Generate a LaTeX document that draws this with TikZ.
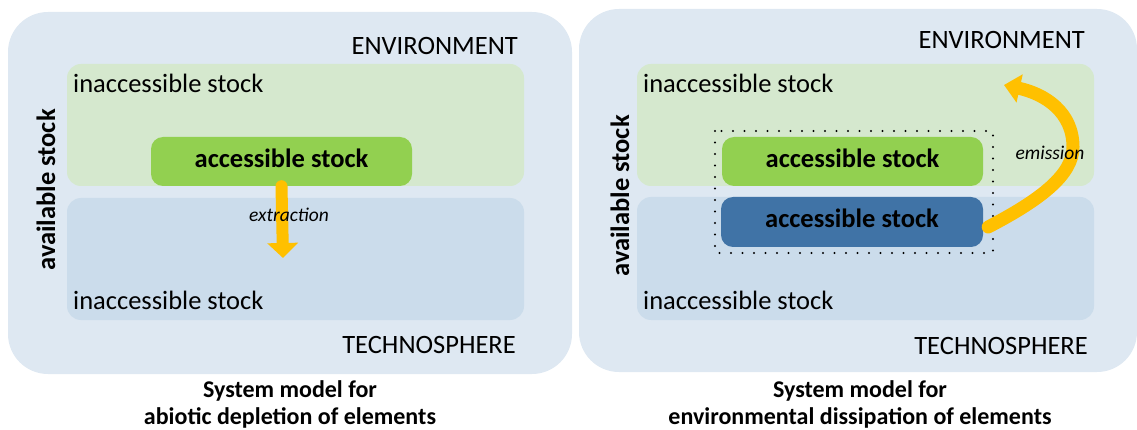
\documentclass[tikz,border=0pt]{standalone}
\usepackage{fontspec}
\setmainfont{Carlito}
\usetikzlibrary{arrows.meta}
\definecolor{outerbg}{HTML}{DEE8F2}
\definecolor{envgreen}{HTML}{D5E8CE}
\definecolor{techblue}{HTML}{CBDCEB}
\definecolor{accgreen}{HTML}{92D050}
\definecolor{accblue}{HTML}{4073A6}
\definecolor{flowgold}{HTML}{FFC000}

\begin{document}
\begin{tikzpicture}[x=1pt,y=-1pt,
	panel/.style={fill=outerbg,rounded corners=40pt},
	envzone/.style={fill=envgreen,rounded corners=14pt},
	techzone/.style={fill=techblue,rounded corners=14pt},
	big/.style={font=\fontsize{26.5}{30}\selectfont,inner sep=0pt},
	stockbox/.style={font=\fontsize{26.5}{30}\selectfont\bfseries,inner sep=0pt,text depth=7pt,
		rounded corners=12pt,minimum width=261pt,minimum height=49pt},
	sidelabel/.style={font=\fontsize{26.5}{30}\selectfont\bfseries,inner sep=0pt,rotate=90},
	flowlabel/.style={font=\fontsize{19.5}{22}\selectfont\itshape,inner sep=0pt},
	flow/.style={draw=flowgold,line width=12pt,line cap=round},
	caption/.style={font=\fontsize{24}{27}\selectfont\bfseries,align=center,inner sep=0pt}]
	\useasboundingbox (0,0) rectangle (1137,430);

	\fill[panel] (8,12) rectangle (572,374);
	\fill[envzone] (67,64) rectangle (524,186);
	\fill[techzone] (67,198) rectangle (524,320);

	\fill[panel] (579,9) rectangle (1137,372);
	\fill[envzone] (637,64) rectangle (1094,186);
	\fill[techzone] (637,197) rectangle (1094,320);

	\node[big,anchor=east] (envL) at (518,46) {ENVIRONMENT};
	\node[big,anchor=east] (techL) at (516,345) {TECHNOSPHERE};
	\node[big,anchor=west] (inaccTopL) at (73,83) {inaccessible stock};
	\node[big,anchor=west] (inaccBotL) at (73,300) {inaccessible stock};
	\node[sidelabel] (availL) at (46,190) {available stock};
	\node[stockbox,fill=accgreen] (accL) at (281.5,161.5) {accessible stock};
	\coordinate (extEnd) at (283,258);
	\draw[flow,-{Triangle[length=15pt,width=30pt]}] (accL.south) -- (extEnd);
	\node[flowlabel] (extLabel) at (289,215) {extraction};
	\node[caption] (capL) at (290,404) {System model for\\abiotic depletion of elements};

	\node[big,anchor=east] (envR) at (1085,40) {ENVIRONMENT};
	\node[big,anchor=east] (techR) at (1088,346) {TECHNOSPHERE};
	\node[big,anchor=west] (inaccTopR) at (643,83) {inaccessible stock};
	\node[big,anchor=west] (inaccBotR) at (643,300) {inaccessible stock};
	\node[sidelabel] (availR) at (620,196) {available stock};
	\draw[line width=2.2pt,line cap=round,dash pattern=on 0pt off 11.5pt] (715,131) rectangle (993,253);
	\node[stockbox,fill=accgreen] (accRg) at (852.5,161.5) {accessible stock};
	\node[stockbox,fill=accblue,minimum width=262pt,minimum height=50pt] (accRb) at (852,222) {accessible stock};
	\coordinate (emEnd) at (1004,85);
	\draw[flow,line width=13pt,-{Triangle[length=16pt,width=28pt]}] ([xshift=5pt,yshift=-5pt]accRb.east)
		.. controls (1040,200) and (1073,175) .. (1073,147)
		.. controls (1073,112) and (1045,94) .. (emEnd);
	\node[flowlabel] (emLabel) at (1050,153) {emission};
	\node[caption] (capR) at (860,404) {System model for\\environmental dissipation of elements};
\end{tikzpicture}
\end{document}
